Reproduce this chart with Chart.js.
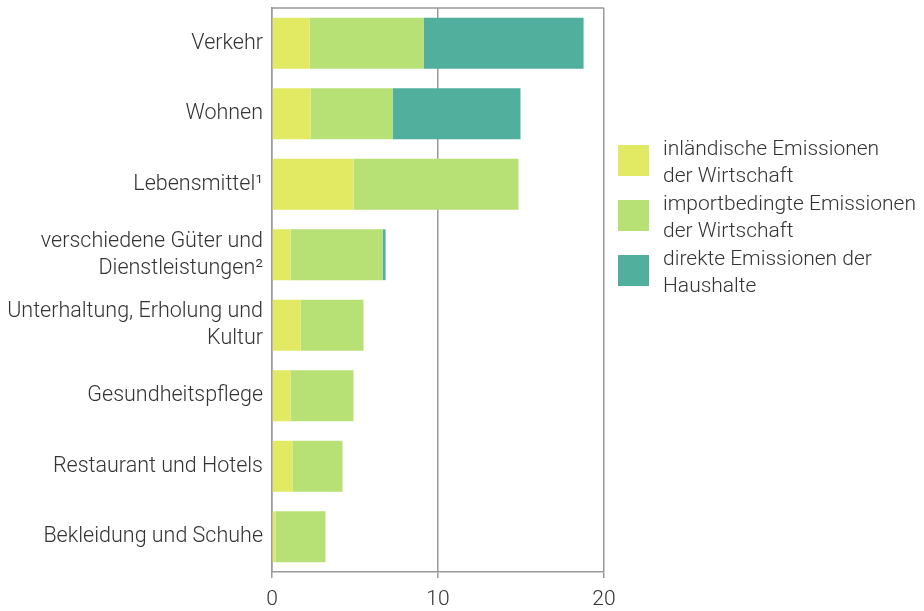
<!DOCTYPE html>
<html>
<head>
<meta charset="utf-8">
<script src="https://cdn.jsdelivr.net/npm/chart.js@4"></script>
<style>
    html, body { margin: 0; padding: 0; background: #fff; }
    #wrap { position: relative; width: 924px; height: 611px; }
    #legend { position: absolute; left: 618px; top: 135px; font-family: Roboto, sans-serif; font-weight: 300; font-size: 21px; color: #333; line-height: 27px; }
    .item { display: flex; align-items: flex-start; height: 55px; }
    .box { width: 31px; height: 31px; margin: 10px 14px 0 0; flex: none; }
</style>
</head>
<body>
<div id="wrap">
    <canvas id="chart" width="924" height="611"></canvas>
    <div id="legend"></div>
</div>
<script>
// Categories (multi-line labels as arrays)
const categories = [
    'Verkehr',
    'Wohnen',
    'Lebensmittel¹',
    ['verschiedene Güter und', 'Dienstleistungen²'],
    ['Unterhaltung, Erholung und', 'Kultur'],
    'Gesundheitspflege',
    'Restaurant und Hotels',
    'Bekleidung und Schuhe'
];

// Series values
const inlandValues = [2.26, 2.32, 4.91, 1.11, 1.72, 1.11, 1.23, 0.2];
const importValues = [6.87, 4.94, 9.94, 5.55, 3.79, 3.8, 3.02, 3.02];
const householdValues = [9.64, 7.71, 0, 0.18, 0, 0, 0, 0];

const seriesNames = [
    ['inländische Emissionen', 'der Wirtschaft'],
    ['importbedingte Emissionen', 'der Wirtschaft'],
    ['direkte Emissionen der', 'Haushalte']
];
const seriesColors = ['#e1ea62', '#b7e175', '#50b09d'];

const xTicks = [0, 10, 20];

// Top border of the plot frame
const framePlugin = {
    id: 'frame',
    afterDraw(chart) {
        const { ctx, chartArea } = chart;
        ctx.save();
        ctx.strokeStyle = '#9a9a9a';
        ctx.lineWidth = 1.5;
        ctx.beginPath();
        ctx.moveTo(chartArea.left, chartArea.top);
        ctx.lineTo(chartArea.right, chartArea.top);
        ctx.stroke();
        ctx.restore();
    }
};

const chart = new Chart(document.getElementById('chart').getContext('2d'), {
    type: 'bar',
    data: {
        labels: categories,
        datasets: [inlandValues, importValues, householdValues].map((values, i) => ({
            label: seriesNames[i].join(' '),
            data: values,
            backgroundColor: seriesColors[i],
            borderWidth: 0,
            barPercentage: 0.72,
            categoryPercentage: 1
        }))
    },
    options: {
        indexAxis: 'y',
        responsive: false,
        animation: false,
        layout: { padding: { top: 8, right: 320, left: 0, bottom: 0 } },
        plugins: {
            legend: { display: false },
            tooltip: { enabled: false }
        },
        scales: {
            x: {
                stacked: true,
                min: 0,
                max: 20,
                afterFit: (s) => { s.height = 39; },
                afterBuildTicks: (s) => { s.ticks = xTicks.map(v => ({ value: v })); },
                grid: { color: '#9a9a9a', lineWidth: 1.5, tickLength: 6 },
                border: { color: '#9a9a9a', width: 1.5 },
                ticks: {
                    padding: 9,
                    color: '#333',
                    font: { family: 'Roboto', weight: 300, size: 21 }
                }
            },
            y: {
                stacked: true,
                afterFit: (s) => {
                    s.width = 272;
                    s.paddingTop = 0;
                    s.paddingBottom = 0;
                },
                grid: { display: false, drawTicks: false },
                border: { color: '#9a9a9a', width: 1.5 },
                ticks: {
                    padding: 9,
                    color: '#333',
                    font: { family: 'Roboto', weight: 300, size: 21.5, lineHeight: 1.26 }
                }
            }
        }
    },
    plugins: [framePlugin]
});

// HTML legend built from series
const legend = document.getElementById('legend');
seriesNames.forEach((name, i) => {
    const item = document.createElement('div');
    item.className = 'item';
    item.innerHTML = `<div class="box" style="background:${seriesColors[i]}"></div><div>${name.join('<br>')}</div>`;
    legend.appendChild(item);
});
</script>
</body>
</html>
